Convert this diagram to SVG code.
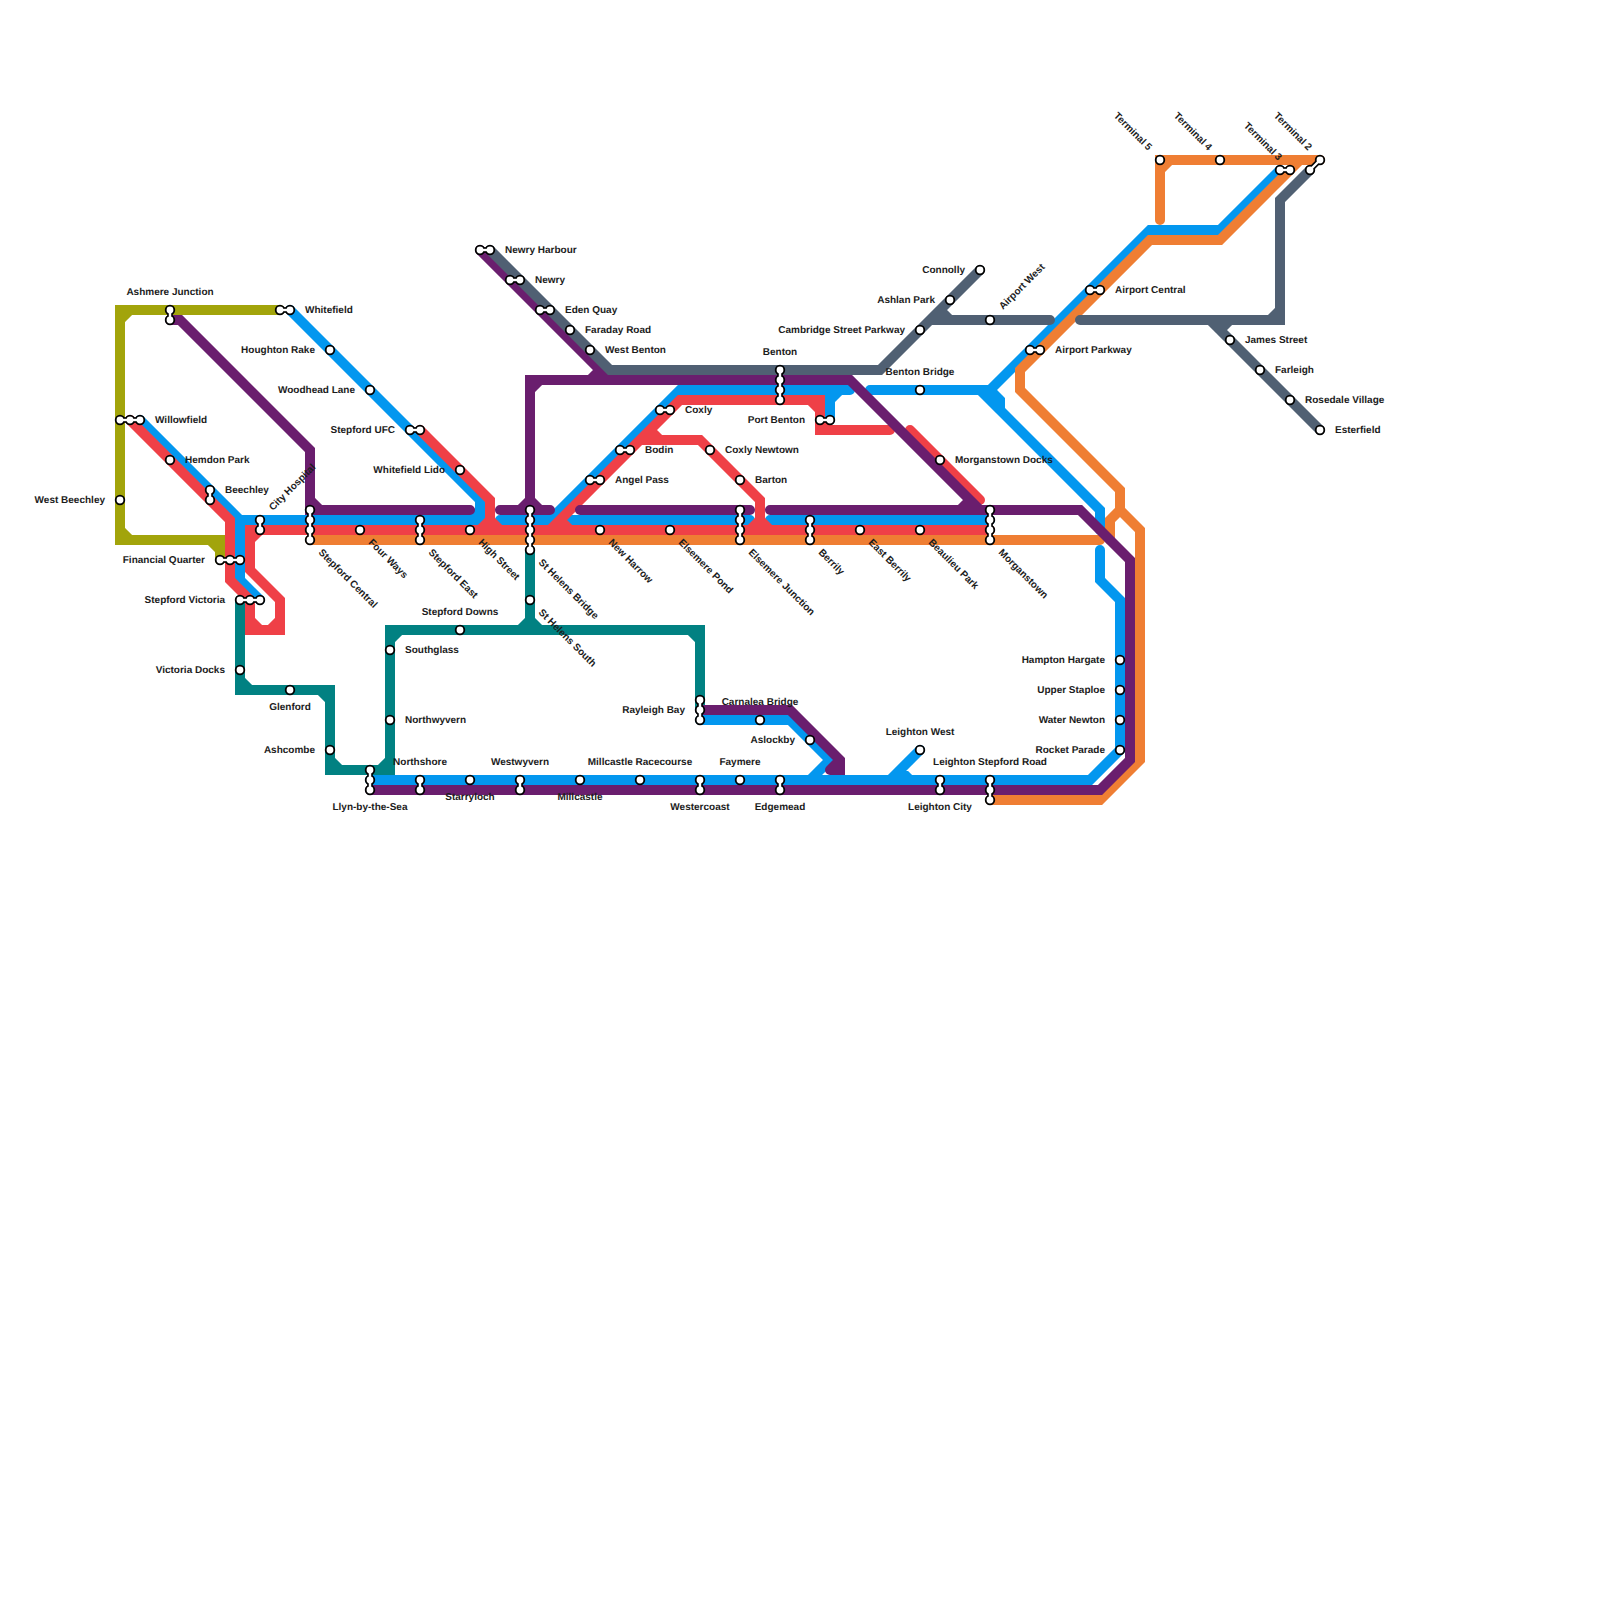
<svg xmlns="http://www.w3.org/2000/svg" width="1600" height="1600" viewBox="0 0 1600 1600">
<style>
.l{fill:none;stroke-width:10;stroke-linecap:round;stroke-linejoin:miter;stroke-miterlimit:10}
.o{stroke:#a2a40b}.t{stroke:#018182}.b{stroke:#0397ef}.r{stroke:#ef4047}.g{stroke:#ef7e33}.p{stroke:#6a1e6e}.s{stroke:#506073}
circle{fill:#fff;stroke:#000;stroke-width:1.8}
.k{fill:none;stroke:#000;stroke-width:5.5}
.w{fill:none;stroke:#fff;stroke-width:2.4}
text{font-family:"Liberation Sans",Arial,sans-serif;font-size:10px;font-weight:bold;fill:#1c1c1c;text-rendering:geometricPrecision}
.e{text-anchor:end}.m{text-anchor:middle}
</style>
<rect width="1600" height="1600" fill="#fff"/>
<g id="connectors">
<path class="l o" d="M280,310H120V540H220V560M130,310L120,320M120,530L130,540M210,540L220,550"/>
<path class="l t" d="M240,600V690H330V770H390V630H700V710M240,680L250,690M320,690L330,700M330,760L340,770M380,770L390,760M390,640L400,630M530,550V630M520,630L530,620L540,630M690,630L700,640"/>
<path class="l b" d="M140,420L240,520V580L260,600M240,520H470L480,510M290,310L480,500V520H470M500,520H550L680,390H850M570,520H750M770,520H990M830,420V390M830,400L840,390M870,390H990L1000,400V410L1100,510V530M980,390L1000,410M990,390L1150,230H1220L1280,170M1100,550V580L1120,600V750L1090,780H370M700,720H790L830,760L810,780M920,750L890,780M900,770L910,780"/>
<path class="l r" d="M130,420L230,520V580L250,600V630H280V600L250,570V530H990M250,620L260,630M270,630L280,620M250,540L260,530M420,430L490,500V530M480,530L490,520L500,530M550,530L680,400H820V430H890M810,400L820,410M820,420L830,430M560,520L570,530M640,440H700L760,500V530M650,430L660,440M750,530L760,520L770,530M910,430L980,500"/>
<path class="l g" d="M310,540H1100M990,800H1100L1140,760V530L1120,510V490L1020,390V370L1150,240H1220L1300,160M1160,220V160H1320M1160,170L1170,160M1120,510L1110,520V540"/>
<path class="l p" d="M170,320H180L310,450V510H470M310,500L320,510M480,250L610,380H850L980,510M530,510V380H610M530,390L540,380M590,380L600,370M500,510H550M520,510L530,500L540,510M580,510H750M770,510H1080L1130,560V760L1100,790H370M960,510L970,500M700,710H790L840,760V770H830M840,760L830,770"/>
<path class="l s" d="M490,250L610,370H880L980,270M930,320H1050M940,310L950,320M1080,320H1280V200L1310,170M1270,320L1280,310M1210,320L1320,430M1220,330L1230,320"/>
</g>
<g id="n-ashmere-junction"><path class="k" d="M170,310V320"/><circle cx="170" cy="310" r="4.3"/><circle cx="170" cy="320" r="4.3"/><path class="w" d="M170,310V320"/><text class="m" x="170" y="295">Ashmere Junction</text></g>
<g id="n-whitefield"><path class="k" d="M280,310H290"/><circle cx="280" cy="310" r="4.3"/><circle cx="290" cy="310" r="4.3"/><path class="w" d="M280,310H290"/><text x="305" y="313">Whitefield</text></g>
<g id="n-houghton-rake"><circle cx="330" cy="350" r="4.3"/><text class="e" x="315" y="353">Houghton Rake</text></g>
<g id="n-woodhead-lane"><circle cx="370" cy="390" r="4.3"/><text class="e" x="355" y="393">Woodhead Lane</text></g>
<g id="n-stepford-ufc"><path class="k" d="M410,430H420"/><circle cx="410" cy="430" r="4.3"/><circle cx="420" cy="430" r="4.3"/><path class="w" d="M410,430H420"/><text class="e" x="395" y="433">Stepford UFC</text></g>
<g id="n-whitefield-lido"><circle cx="460" cy="470" r="4.3"/><text class="e" x="445" y="473">Whitefield Lido</text></g>
<g id="n-willowfield"><path class="k" d="M120,420H140"/><circle cx="120" cy="420" r="4.3"/><circle cx="130" cy="420" r="4.3"/><circle cx="140" cy="420" r="4.3"/><path class="w" d="M120,420H140"/><text x="155" y="423">Willowfield</text></g>
<g id="n-hemdon-park"><circle cx="170" cy="460" r="4.3"/><text x="185" y="463">Hemdon Park</text></g>
<g id="n-beechley"><path class="k" d="M210,490V500"/><circle cx="210" cy="490" r="4.3"/><circle cx="210" cy="500" r="4.3"/><path class="w" d="M210,490V500"/><text x="225" y="493">Beechley</text></g>
<g id="n-west-beechley"><circle cx="120" cy="500" r="4.3"/><text class="e" x="105" y="503">West Beechley</text></g>
<g id="n-city-hospital"><path class="k" d="M260,520V530"/><circle cx="260" cy="520" r="4.3"/><circle cx="260" cy="530" r="4.3"/><path class="w" d="M260,520V530"/><text transform="rotate(-45 273 511)" x="273" y="511">City Hospital</text></g>
<g id="n-stepford-central"><path class="k" d="M310,510V540"/><circle cx="310" cy="510" r="4.3"/><circle cx="310" cy="520" r="4.3"/><circle cx="310" cy="530" r="4.3"/><circle cx="310" cy="540" r="4.3"/><path class="w" d="M310,510V540"/><text transform="rotate(45 318 553)" x="318" y="553">Stepford Central</text></g>
<g id="n-four-ways"><circle cx="360" cy="530" r="4.3"/><text transform="rotate(45 368 543)" x="368" y="543">Four Ways</text></g>
<g id="n-stepford-east"><path class="k" d="M420,520V540"/><circle cx="420" cy="520" r="4.3"/><circle cx="420" cy="530" r="4.3"/><circle cx="420" cy="540" r="4.3"/><path class="w" d="M420,520V540"/><text transform="rotate(45 428 553)" x="428" y="553">Stepford East</text></g>
<g id="n-high-street"><circle cx="470" cy="530" r="4.3"/><text transform="rotate(45 478 543)" x="478" y="543">High Street</text></g>
<g id="n-st-helens-bridge"><path class="k" d="M530,510V550"/><circle cx="530" cy="510" r="4.3"/><circle cx="530" cy="520" r="4.3"/><circle cx="530" cy="530" r="4.3"/><circle cx="530" cy="540" r="4.3"/><circle cx="530" cy="550" r="4.3"/><path class="w" d="M530,510V550"/><text transform="rotate(45 538 563)" x="538" y="563">St Helens Bridge</text></g>
<g id="n-st-helens-south"><circle cx="530" cy="600" r="4.3"/><text transform="rotate(45 538 613)" x="538" y="613">St Helens South</text></g>
<g id="n-new-harrow"><circle cx="600" cy="530" r="4.3"/><text transform="rotate(45 608 543)" x="608" y="543">New Harrow</text></g>
<g id="n-elsemere-pond"><circle cx="670" cy="530" r="4.3"/><text transform="rotate(45 678 543)" x="678" y="543">Elsemere Pond</text></g>
<g id="n-elsemere-junction"><path class="k" d="M740,510V540"/><circle cx="740" cy="510" r="4.3"/><circle cx="740" cy="520" r="4.3"/><circle cx="740" cy="530" r="4.3"/><circle cx="740" cy="540" r="4.3"/><path class="w" d="M740,510V540"/><text transform="rotate(45 748 553)" x="748" y="553">Elsemere Junction</text></g>
<g id="n-berrily"><path class="k" d="M810,520V540"/><circle cx="810" cy="520" r="4.3"/><circle cx="810" cy="530" r="4.3"/><circle cx="810" cy="540" r="4.3"/><path class="w" d="M810,520V540"/><text transform="rotate(45 818 553)" x="818" y="553">Berrily</text></g>
<g id="n-east-berrily"><circle cx="860" cy="530" r="4.3"/><text transform="rotate(45 868 543)" x="868" y="543">East Berrily</text></g>
<g id="n-beaulieu-park"><circle cx="920" cy="530" r="4.3"/><text transform="rotate(45 928 543)" x="928" y="543">Beaulieu Park</text></g>
<g id="n-morganstown"><path class="k" d="M990,510V540"/><circle cx="990" cy="510" r="4.3"/><circle cx="990" cy="520" r="4.3"/><circle cx="990" cy="530" r="4.3"/><circle cx="990" cy="540" r="4.3"/><path class="w" d="M990,510V540"/><text transform="rotate(45 998 553)" x="998" y="553">Morganstown</text></g>
<g id="n-financial-quarter"><path class="k" d="M220,560H240"/><circle cx="220" cy="560" r="4.3"/><circle cx="230" cy="560" r="4.3"/><circle cx="240" cy="560" r="4.3"/><path class="w" d="M220,560H240"/><text class="e" x="205" y="563">Financial Quarter</text></g>
<g id="n-stepford-victoria"><path class="k" d="M240,600H260"/><circle cx="240" cy="600" r="4.3"/><circle cx="250" cy="600" r="4.3"/><circle cx="260" cy="600" r="4.3"/><path class="w" d="M240,600H260"/><text class="e" x="225" y="603">Stepford Victoria</text></g>
<g id="n-victoria-docks"><circle cx="240" cy="670" r="4.3"/><text class="e" x="225" y="673">Victoria Docks</text></g>
<g id="n-glenford"><circle cx="290" cy="690" r="4.3"/><text class="m" x="290" y="710">Glenford</text></g>
<g id="n-ashcombe"><circle cx="330" cy="750" r="4.3"/><text class="e" x="315" y="753">Ashcombe</text></g>
<g id="n-llyn-by-the-sea"><path class="k" d="M370,770V790"/><circle cx="370" cy="770" r="4.3"/><circle cx="370" cy="780" r="4.3"/><circle cx="370" cy="790" r="4.3"/><path class="w" d="M370,770V790"/><text class="m" x="370" y="810">Llyn-by-the-Sea</text></g>
<g id="n-northshore"><path class="k" d="M420,780V790"/><circle cx="420" cy="780" r="4.3"/><circle cx="420" cy="790" r="4.3"/><path class="w" d="M420,780V790"/><text class="m" x="420" y="765">Northshore</text></g>
<g id="n-starryloch"><circle cx="470" cy="780" r="4.3"/><text class="m" x="470" y="800">Starryloch</text></g>
<g id="n-westwyvern"><path class="k" d="M520,780V790"/><circle cx="520" cy="780" r="4.3"/><circle cx="520" cy="790" r="4.3"/><path class="w" d="M520,780V790"/><text class="m" x="520" y="765">Westwyvern</text></g>
<g id="n-millcastle"><circle cx="580" cy="780" r="4.3"/><text class="m" x="580" y="800">Millcastle</text></g>
<g id="n-millcastle-racecourse"><circle cx="640" cy="780" r="4.3"/><text class="m" x="640" y="765">Millcastle Racecourse</text></g>
<g id="n-westercoast"><path class="k" d="M700,780V790"/><circle cx="700" cy="780" r="4.3"/><circle cx="700" cy="790" r="4.3"/><path class="w" d="M700,780V790"/><text class="m" x="700" y="810">Westercoast</text></g>
<g id="n-faymere"><circle cx="740" cy="780" r="4.3"/><text class="m" x="740" y="765">Faymere</text></g>
<g id="n-edgemead"><path class="k" d="M780,780V790"/><circle cx="780" cy="780" r="4.3"/><circle cx="780" cy="790" r="4.3"/><path class="w" d="M780,780V790"/><text class="m" x="780" y="810">Edgemead</text></g>
<g id="n-leighton-city"><path class="k" d="M940,780V790"/><circle cx="940" cy="780" r="4.3"/><circle cx="940" cy="790" r="4.3"/><path class="w" d="M940,780V790"/><text class="m" x="940" y="810">Leighton City</text></g>
<g id="n-leighton-stepford-road"><path class="k" d="M990,780V800"/><circle cx="990" cy="780" r="4.3"/><circle cx="990" cy="790" r="4.3"/><circle cx="990" cy="800" r="4.3"/><path class="w" d="M990,780V800"/><text class="m" x="990" y="765">Leighton Stepford Road</text></g>
<g id="n-leighton-west"><circle cx="920" cy="750" r="4.3"/><text class="m" x="920" y="735">Leighton West</text></g>
<g id="n-aslockby"><circle cx="810" cy="740" r="4.3"/><text class="e" x="795" y="743">Aslockby</text></g>
<g id="n-carnalea-bridge"><circle cx="760" cy="720" r="4.3"/><text class="m" x="760" y="705">Carnalea Bridge</text></g>
<g id="n-rayleigh-bay"><path class="k" d="M700,700V720"/><circle cx="700" cy="700" r="4.3"/><circle cx="700" cy="710" r="4.3"/><circle cx="700" cy="720" r="4.3"/><path class="w" d="M700,700V720"/><text class="e" x="685" y="713">Rayleigh Bay</text></g>
<g id="n-southglass"><circle cx="390" cy="650" r="4.3"/><text x="405" y="653">Southglass</text></g>
<g id="n-northwyvern"><circle cx="390" cy="720" r="4.3"/><text x="405" y="723">Northwyvern</text></g>
<g id="n-stepford-downs"><circle cx="460" cy="630" r="4.3"/><text class="m" x="460" y="615">Stepford Downs</text></g>
<g id="n-newry-harbour"><path class="k" d="M480,250H490"/><circle cx="480" cy="250" r="4.3"/><circle cx="490" cy="250" r="4.3"/><path class="w" d="M480,250H490"/><text x="505" y="253">Newry Harbour</text></g>
<g id="n-newry"><path class="k" d="M510,280H520"/><circle cx="510" cy="280" r="4.3"/><circle cx="520" cy="280" r="4.3"/><path class="w" d="M510,280H520"/><text x="535" y="283">Newry</text></g>
<g id="n-eden-quay"><path class="k" d="M540,310H550"/><circle cx="540" cy="310" r="4.3"/><circle cx="550" cy="310" r="4.3"/><path class="w" d="M540,310H550"/><text x="565" y="313">Eden Quay</text></g>
<g id="n-faraday-road"><circle cx="570" cy="330" r="4.3"/><text x="585" y="333">Faraday Road</text></g>
<g id="n-west-benton"><circle cx="590" cy="350" r="4.3"/><text x="605" y="353">West Benton</text></g>
<g id="n-benton"><path class="k" d="M780,370V400"/><circle cx="780" cy="370" r="4.3"/><circle cx="780" cy="380" r="4.3"/><circle cx="780" cy="390" r="4.3"/><circle cx="780" cy="400" r="4.3"/><path class="w" d="M780,370V400"/><text class="m" x="780" y="355">Benton</text></g>
<g id="n-coxly"><path class="k" d="M660,410H670"/><circle cx="660" cy="410" r="4.3"/><circle cx="670" cy="410" r="4.3"/><path class="w" d="M660,410H670"/><text x="685" y="413">Coxly</text></g>
<g id="n-bodin"><path class="k" d="M620,450H630"/><circle cx="620" cy="450" r="4.3"/><circle cx="630" cy="450" r="4.3"/><path class="w" d="M620,450H630"/><text x="645" y="453">Bodin</text></g>
<g id="n-angel-pass"><path class="k" d="M590,480H600"/><circle cx="590" cy="480" r="4.3"/><circle cx="600" cy="480" r="4.3"/><path class="w" d="M590,480H600"/><text x="615" y="483">Angel Pass</text></g>
<g id="n-port-benton"><path class="k" d="M820,420H830"/><circle cx="820" cy="420" r="4.3"/><circle cx="830" cy="420" r="4.3"/><path class="w" d="M820,420H830"/><text class="e" x="805" y="423">Port Benton</text></g>
<g id="n-coxly-newtown"><circle cx="710" cy="450" r="4.3"/><text x="725" y="453">Coxly Newtown</text></g>
<g id="n-barton"><circle cx="740" cy="480" r="4.3"/><text x="755" y="483">Barton</text></g>
<g id="n-benton-bridge"><circle cx="920" cy="390" r="4.3"/><text class="m" x="920" y="375">Benton Bridge</text></g>
<g id="n-morganstown-docks"><circle cx="940" cy="460" r="4.3"/><text x="955" y="463">Morganstown Docks</text></g>
<g id="n-connolly"><circle cx="980" cy="270" r="4.3"/><text class="e" x="965" y="273">Connolly</text></g>
<g id="n-ashlan-park"><circle cx="950" cy="300" r="4.3"/><text class="e" x="935" y="303">Ashlan Park</text></g>
<g id="n-cambridge-street-parkway"><circle cx="920" cy="330" r="4.3"/><text class="e" x="905" y="333">Cambridge Street Parkway</text></g>
<g id="n-airport-west"><circle cx="990" cy="320" r="4.3"/><text transform="rotate(-45 1003 310)" x="1003" y="310">Airport West</text></g>
<g id="n-airport-parkway"><path class="k" d="M1030,350H1040"/><circle cx="1030" cy="350" r="4.3"/><circle cx="1040" cy="350" r="4.3"/><path class="w" d="M1030,350H1040"/><text x="1055" y="353">Airport Parkway</text></g>
<g id="n-airport-central"><path class="k" d="M1090,290H1100"/><circle cx="1090" cy="290" r="4.3"/><circle cx="1100" cy="290" r="4.3"/><path class="w" d="M1090,290H1100"/><text x="1115" y="293">Airport Central</text></g>
<g id="n-terminal-5"><circle cx="1160" cy="160" r="4.3"/><text class="e" transform="rotate(45 1148 151)" x="1148" y="151">Terminal 5</text></g>
<g id="n-terminal-4"><circle cx="1220" cy="160" r="4.3"/><text class="e" transform="rotate(45 1208 151)" x="1208" y="151">Terminal 4</text></g>
<g id="n-terminal-3"><path class="k" d="M1280,170H1290"/><circle cx="1280" cy="170" r="4.3"/><circle cx="1290" cy="170" r="4.3"/><path class="w" d="M1280,170H1290"/><text class="e" transform="rotate(45 1278 161)" x="1278" y="161">Terminal 3</text></g>
<g id="n-terminal-2"><path class="k" d="M1310,170L1320,160"/><circle cx="1310" cy="170" r="4.3"/><circle cx="1320" cy="160" r="4.3"/><path class="w" d="M1310,170L1320,160"/><text class="e" transform="rotate(45 1308 151)" x="1308" y="151">Terminal 2</text></g>
<g id="n-james-street"><circle cx="1230" cy="340" r="4.3"/><text x="1245" y="343">James Street</text></g>
<g id="n-farleigh"><circle cx="1260" cy="370" r="4.3"/><text x="1275" y="373">Farleigh</text></g>
<g id="n-rosedale-village"><circle cx="1290" cy="400" r="4.3"/><text x="1305" y="403">Rosedale Village</text></g>
<g id="n-esterfield"><circle cx="1320" cy="430" r="4.3"/><text x="1335" y="433">Esterfield</text></g>
<g id="n-hampton-hargate"><circle cx="1120" cy="660" r="4.3"/><text class="e" x="1105" y="663">Hampton Hargate</text></g>
<g id="n-upper-staploe"><circle cx="1120" cy="690" r="4.3"/><text class="e" x="1105" y="693">Upper Staploe</text></g>
<g id="n-water-newton"><circle cx="1120" cy="720" r="4.3"/><text class="e" x="1105" y="723">Water Newton</text></g>
<g id="n-rocket-parade"><circle cx="1120" cy="750" r="4.3"/><text class="e" x="1105" y="753">Rocket Parade</text></g>
</svg>
